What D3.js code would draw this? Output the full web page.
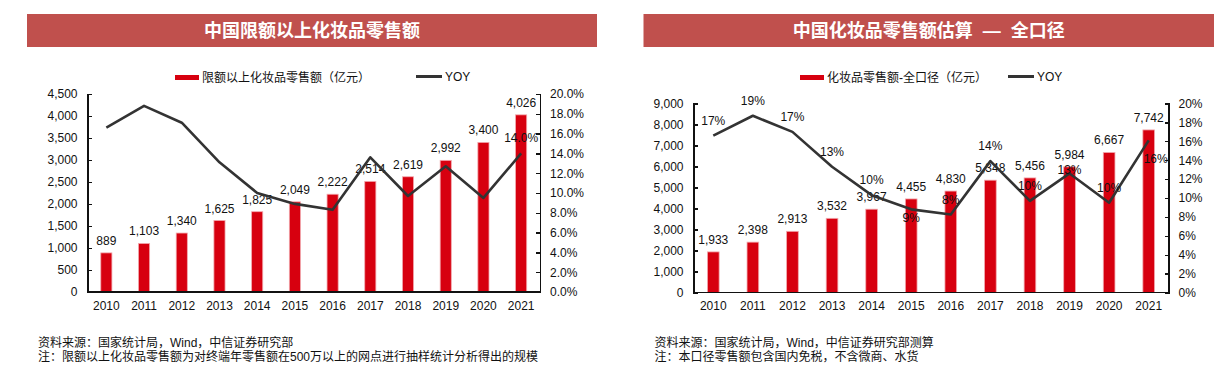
<div class="grid"></div>

<script src="https://cdnjs.cloudflare.com/ajax/libs/d3/7.8.5/d3.min.js"></script>

<style>
body { margin: 0; background: #fff; }
.grid {
    font-family: Arial, 'Liberation Sans', 'Noto Sans CJK SC', sans-serif;
    font-size: 12px;
}
.grid text { fill: #111; }
.axis path, .axis line { stroke: #111; stroke-width: 1.3px; shape-rendering: crispEdges; }
.axis text { font-size: 12px; fill: #111; }
.title { font-weight: bold; font-size: 18px; word-spacing: 5px; }
.grid text.title { fill: #fff; }
</style>

<script>
const years = ["2010","2011","2012","2013","2014","2015","2016","2017","2018","2019","2020","2021"];

// left chart: 限额以上
const limitSales = [889, 1103, 1340, 1625, 1825, 2049, 2222, 2514, 2619, 2992, 3400, 4026];
const limitYoy = [16.6, 18.8, 17.1, 13.1, 10.0, 8.9, 8.3, 13.6, 9.7, 12.7, 9.5, 14.0];
const limitLeftTicks = [0, 500, 1000, 1500, 2000, 2500, 3000, 3500, 4000, 4500];
const limitRightTicks = [0, 2, 4, 6, 8, 10, 12, 14, 16, 18, 20];

// right chart: 全口径
const totalSales = [1933, 2398, 2913, 3532, 3967, 4455, 4830, 5348, 5456, 5984, 6667, 7742];
const totalYoy = [16.6, 18.7, 17.0, 13.3, 10.3, 8.8, 8.25, 13.9, 9.7, 12.6, 9.5, 16.1];
const totalLeftTicks = [0, 1000, 2000, 3000, 4000, 5000, 6000, 7000, 8000, 9000];
const totalRightTicks = [0, 2, 4, 6, 8, 10, 12, 14, 16, 18, 20];
// where the yoy label sits next to its point
const totalYoyPos = ["up","up","up","up","up","down","up","up","up","mid","up","downRight"];

const svg = d3.select(".grid").append("svg")
    .attr("width", 1232)
    .attr("height", 387);

const labelDy = {up: -11, down: 13, mid: 1, downRight: 23};

function buildChart(cfg) {
    var g = svg.append("g");

    // title band
    g.append("rect")
        .attr("x", cfg.band[0]).attr("y", 14)
        .attr("width", cfg.band[1] - cfg.band[0]).attr("height", 33)
        .attr("fill", "#c0504d");
    g.append("text")
        .attr("class", "title")
        .attr("x", (cfg.band[0] + cfg.band[1]) / 2)
        .attr("y", 31)
        .attr("dy", ".35em")
        .attr("text-anchor", "middle")
        .text(cfg.title);

    // legend
    g.append("rect")
        .attr("x", cfg.legendX).attr("y", 75)
        .attr("width", 24).attr("height", 5)
        .attr("fill", "#d7000f");
    g.append("text")
        .attr("x", cfg.legendX + 27).attr("y", 82)
        .text(cfg.barName);
    g.append("line")
        .attr("x1", cfg.yoyLegendX).attr("x2", cfg.yoyLegendX + 26)
        .attr("y1", 76.5).attr("y2", 76.5)
        .attr("stroke", "#333").attr("stroke-width", 3);
    g.append("text")
        .attr("x", cfg.yoyLegendX + 29).attr("y", 81)
        .text("YOY");

    var x = d3.scaleBand().domain(years).range([cfg.left, cfg.right]).padding(0);
    var y = d3.scaleLinear().domain([0, d3.max(cfg.leftTicks)]).range([cfg.bottom, cfg.top]);
    var y2 = d3.scaleLinear().domain([0, 20]).range([cfg.bottom, cfg.top]);
    var barW = x.bandwidth() * 0.295;

    g.selectAll(".bar")
        .data(cfg.sales)
        .enter().append("rect")
        .attr("class", "bar")
        .attr("x", (d, i) => x(years[i]) + x.bandwidth() / 2 - barW / 2)
        .attr("y", d => y(d))
        .attr("width", barW)
        .attr("height", d => cfg.bottom - y(d))
        .attr("fill", "#d7000f")
        .attr("stroke", "#f2a9ae")
        .attr("stroke-width", 0.8);

    g.selectAll(".barLabel")
        .data(cfg.sales)
        .enter().append("text")
        .attr("x", (d, i) => x(years[i]) + x.bandwidth() / 2)
        .attr("y", d => y(d) - 8)
        .attr("text-anchor", "middle")
        .text(d => d3.format(",")(d));

    // axes
    g.append("g")
        .attr("class", "axis")
        .attr("transform", "translate(" + cfg.left + ",0)")
        .call(d3.axisLeft(y).tickValues(cfg.leftTicks).tickFormat(d3.format(","))
            .tickSizeInner(-4).tickSizeOuter(-4).tickPadding(10));
    g.append("g")
        .attr("class", "axis")
        .attr("transform", "translate(" + cfg.right + ",0)")
        .call(d3.axisRight(y2).tickValues(cfg.rightTicks).tickFormat(cfg.pctFormat)
            .tickSizeInner(-4).tickSizeOuter(-4).tickPadding(10));
    var xa = g.append("g")
        .attr("class", "axis")
        .attr("transform", "translate(0," + cfg.bottom + ")")
        .call(d3.axisBottom(x).tickSize(0).tickPadding(9));
    xa.select(".domain").attr("d", "M" + cfg.left + ",0H" + cfg.right);
    xa.selectAll("text").attr("dy", "0.71em");

    // yoy line
    var line = d3.line()
        .x((d, i) => x(years[i]) + x.bandwidth() / 2)
        .y(d => y2(d));
    g.append("path")
        .datum(cfg.yoy)
        .attr("d", line)
        .attr("fill", "none")
        .attr("stroke", "#333")
        .attr("stroke-width", 2.6)
        .attr("stroke-linejoin", "round");

    g.selectAll(".yoyLabel")
        .data(cfg.yoyLabels)
        .enter().append("text")
        .attr("x", d => x(years[d.i]) + x.bandwidth() / 2 + (d.pos == "downRight" ? 7 : 0))
        .attr("y", d => y2(cfg.yoy[d.i]) + labelDy[d.pos])
        .attr("text-anchor", "middle")
        .text(d => d.text);

    // notes
    cfg.notes.forEach(function (n, k) {
        g.append("text")
            .attr("x", cfg.noteX)
            .attr("y", 347 + k * 14)
            .text(n);
    });
}

buildChart({
    band: [27, 597],
    title: "中国限额以上化妆品零售额",
    legendX: 175, yoyLegendX: 416,
    barName: "限额以上化妆品零售额（亿元）",
    left: 87.5, right: 540, top: 94, bottom: 292,
    sales: limitSales, yoy: limitYoy,
    leftTicks: limitLeftTicks, rightTicks: limitRightTicks,
    pctFormat: d => d.toFixed(1) + "%",
    yoyLabels: [{i: 11, pos: "up", text: limitYoy[11].toFixed(1) + "%"}],
    noteX: 38,
    notes: ["资料来源：国家统计局，Wind，中信证券研究部",
            "注：限额以上化妆品零售额为对终端年零售额在500万以上的网点进行抽样统计分析得出的规模"]
});

buildChart({
    band: [643.5, 1214],
    title: "中国化妆品零售额估算 — 全口径",
    legendX: 800, yoyLegendX: 1008,
    barName: "化妆品零售额-全口径（亿元）",
    left: 693.5, right: 1168.5, top: 103.5, bottom: 292.5,
    sales: totalSales, yoy: totalYoy,
    leftTicks: totalLeftTicks, rightTicks: totalRightTicks,
    pctFormat: d => d + "%",
    yoyLabels: totalYoy.map((v, i) => ({i: i, pos: totalYoyPos[i], text: Math.round(v) + "%"})),
    noteX: 654.5,
    notes: ["资料来源：国家统计局，Wind，中信证券研究部测算",
            "注：本口径零售额包含国内免税，不含微商、水货"]
});
</script>
